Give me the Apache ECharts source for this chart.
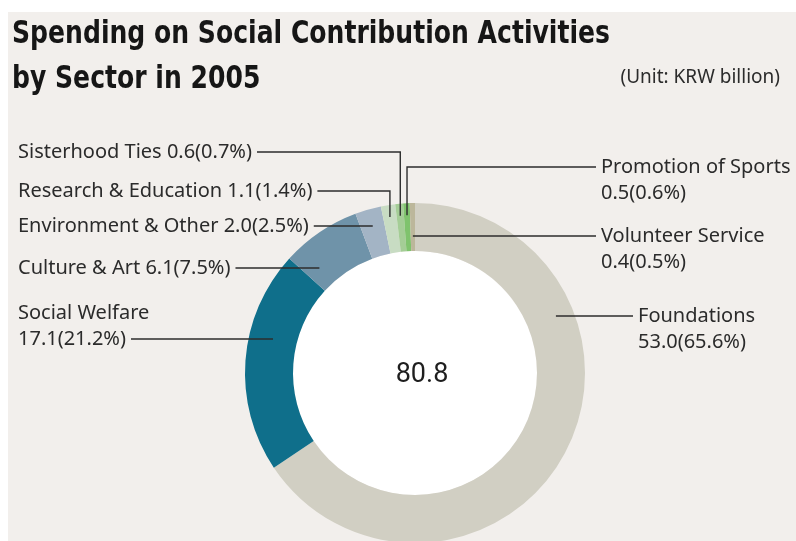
<!DOCTYPE html>
<html>
<head>
<meta charset="utf-8">
<style>
  html, body { margin: 0; padding: 0; background: #ffffff; }
  #chart { width: 796px; height: 541px; }
</style>
<script src="https://cdn.jsdelivr.net/npm/echarts@6/dist/echarts.min.js"></script>
</head>
<body>
<div id="chart"></div>
<script>
// Spending by sector, 2005 (KRW billion), clockwise from 12 o'clock
const categories = [
  'Foundations', 'Social Welfare', 'Culture & Art', 'Environment & Other',
  'Research & Education', 'Sisterhood Ties', 'Promotion of Sports', 'Volunteer Service'
];
const values = [53.0, 17.1, 6.1, 2.0, 1.1, 0.6, 0.5, 0.4];
const shares = [65.6, 21.2, 7.5, 2.5, 1.4, 0.7, 0.6, 0.5];
const colors = ['#d1cfc3', '#0f6f8b', '#6f93a9', '#a3b4c5', '#c8dcc3', '#a4cd96', '#7fc36d', '#bcb79b'];

const titleLines = ['Spending on Social Contribution Activities', 'by Sector in 2005'];
const unitText = '(Unit: KRW billion)';

// Ring geometry
const CX = 415, CY = 373, R_IN = 122, R_OUT = 170;
const LABEL_FONT = '"Noto Sans", Roboto, sans-serif';
const LABEL_SIZE = 20;
const LH = 26;
const TITLE_FONT = 'bold 32px "DejaVu Sans Condensed", "DejaVu Sans", sans-serif';
const LINE_COLOR = '#2d2d2d';

// Where each label sits and how its leader line reaches the ring
const labelSpots = [
  { x: 638, y: 316, side: 'right', attach: 0, twoLine: true,  reach: 'radius', r: 152 },
  { x: 18,  y: 313, side: 'left',  attach: 1, twoLine: true,  reach: 'radius', r: 146 },
  { x: 18,  y: 268, side: 'left',  attach: 0, twoLine: false, reach: 'radius', r: 142 },
  { x: 18,  y: 226, side: 'left',  attach: 0, twoLine: false, reach: 'ray' },
  { x: 18,  y: 191, side: 'left',  attach: 0, twoLine: false, reach: 'elbow' },
  { x: 18,  y: 152, side: 'left',  attach: 0, twoLine: false, reach: 'elbow' },
  { x: 601, y: 167, side: 'right', attach: 0, twoLine: true,  reach: 'elbow' },
  { x: 601, y: 236, side: 'right', attach: 0, twoLine: true,  reach: 'ray' }
];

const total = values.reduce((a, b) => a + b, 0);

// Mid angle of slice i, clockwise from 12 o'clock, in radians
function midAngle(i) {
  let s = 0;
  for (let k = 0; k < i; k++) s += values[k];
  return (s + values[i] / 2) / total * 2 * Math.PI;
}

function labelLines(i) {
  const v = values[i].toFixed(1) + '(' + shares[i].toFixed(1) + '%)';
  return labelSpots[i].twoLine ? [categories[i], v] : [categories[i] + ' ' + v];
}

const measureCtx = document.createElement('canvas').getContext('2d');
function textWidth(str, font) {
  measureCtx.font = font || (LABEL_SIZE + 'px ' + LABEL_FONT);
  return measureCtx.measureText(str).width;
}

// Leader line from inside the ring out to the label text
function leaderPoints(i) {
  const spot = labelSpots[i];
  const lines = labelLines(i);
  const lineY = spot.y + spot.attach * LH;
  const textEnd = spot.side === 'left'
    ? [spot.x + textWidth(lines[spot.attach]) + 5, lineY]
    : [spot.x - 5, lineY];
  const theta = midAngle(i);
  if (spot.reach === 'radius') {
    const dy = CY - lineY;
    const dx = Math.sqrt(spot.r * spot.r - dy * dy) * (spot.side === 'left' ? -1 : 1);
    return [[CX + dx, lineY], textEnd];
  }
  if (spot.reach === 'ray') {
    const r = (CY - lineY) / Math.cos(theta);
    return [[CX + r * Math.sin(theta), lineY], textEnd];
  }
  const rr = 158;
  const a = [CX + rr * Math.sin(theta), CY - rr * Math.cos(theta)];
  return [a, [a[0], lineY], textEnd];
}

// Condensed title: squeeze the bold face horizontally to the title block width
const TITLE_WIDTH = 598;
const titleScale = TITLE_WIDTH / textWidth(titleLines[0], TITLE_FONT);

const chart = echarts.init(document.getElementById('chart'), null, { renderer: 'canvas' });

const panel = [{
  type: 'rect', z: -10, silent: true,
  shape: { x: 8, y: 12, width: 788, height: 529 },
  style: { fill: '#f2efec' }
}];
const titleTexts = titleLines.map((t, k) => ({
  type: 'text', silent: true, z: 10,
  x: 12, y: 35 + k * 45,
  scaleX: titleScale,
  style: { text: t, font: TITLE_FONT, fill: '#161616', align: 'left', verticalAlign: 'middle' }
}));
const leaders = categories.map((c, i) => ({
  type: 'polyline', silent: true, z: 50,
  shape: { points: leaderPoints(i) },
  style: { stroke: LINE_COLOR, lineWidth: 1.4, fill: null }
}));

chart.setOption({
  backgroundColor: '#ffffff',
  animation: false,
  graphic: panel.concat(titleTexts, leaders),
  title: [{
    text: unitText,
    right: 11, top: 63,
    textStyle: { fontFamily: LABEL_FONT, fontWeight: 'normal', fontSize: 19, color: '#2b2b2b' }
  }, {
    text: total.toFixed(1),
    left: CX + 2, top: CY - 16, textAlign: 'center',
    textStyle: { fontFamily: 'Roboto, sans-serif', fontWeight: 'normal', fontSize: 27, color: '#1e1e1e' }
  }],
  series: [{
    type: 'pie',
    z: 1,
    silent: true,
    center: [CX, CY],
    radius: [0, R_IN],
    label: { show: false },
    labelLine: { show: false },
    itemStyle: { color: '#ffffff' },
    data: [{ value: 1, name: 'hole' }]
  }, {
    type: 'pie',
    z: 2,
    silent: true,
    center: [CX, CY],
    radius: [R_IN, R_OUT],
    startAngle: 90,
    clockwise: true,
    avoidLabelOverlap: false,
    itemStyle: { borderWidth: 0 },
    label: {
      show: true,
      position: 'outside',
      formatter: p => labelLines(p.dataIndex).join('\n'),
      fontFamily: LABEL_FONT,
      fontSize: LABEL_SIZE,
      lineHeight: LH,
      color: '#2b2b2b'
    },
    labelLine: { show: false },
    labelLayout: function (params) {
      const spot = labelSpots[params.dataIndex];
      return {
        x: spot.x,
        y: spot.y - LH / 2,
        align: 'left',
        verticalAlign: 'top'
      };
    },
    data: categories.map((name, i) => ({
      name: name,
      value: values[i],
      itemStyle: { color: colors[i] }
    }))
  }]
});
</script>
</body>
</html>
